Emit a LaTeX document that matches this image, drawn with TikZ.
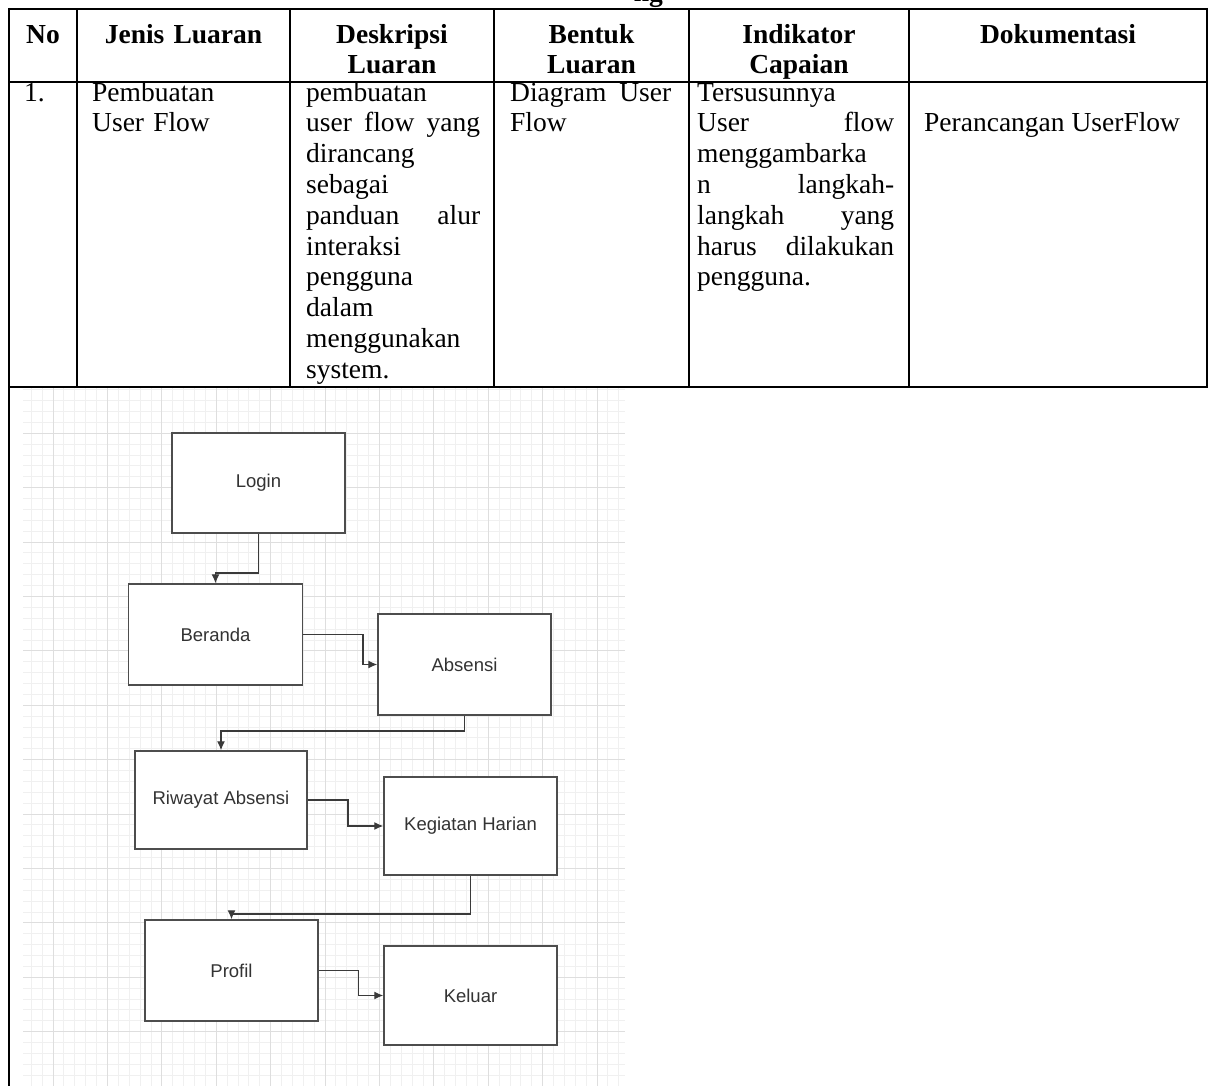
\documentclass[tikz,border=0pt]{standalone}
\usepackage{fontspec}
\setmainfont{Liberation Serif}
\newfontfamily\diagfont{Liberation Sans}
\usetikzlibrary{arrows.meta,calc}
\newcommand{\spreadline}[2]{\leavevmode\hbox to #1{#2}}
\definecolor{boxline}{HTML}{4D4D4D}
\definecolor{connline}{HTML}{3A3A3A}
\definecolor{boxtext}{HTML}{333333}
\begin{document}
\begin{tikzpicture}[x=1pt,y=-1pt,
  tline/.style={line width=2pt,black},
  hcell/.style={inner sep=0pt,anchor=north,align=center,font=\fontsize{27.5}{30.8}\selectfont\bfseries},
  bcell/.style={inner sep=0pt,anchor=north west,align=left,font=\fontsize{27.5}{30.8}\selectfont},
  minorgrid/.style={draw=gray!12,line width=0.8pt},
  majorgrid/.style={draw=gray!26,line width=0.9pt},
  flowbox/.style={draw=boxline,line width=1.4pt,fill=white,inner sep=0pt,
    font=\diagfont\fontsize{18.5}{22}\selectfont,text=boxtext},
  conn/.style={draw=connline,line width=1.3pt,-{Latex[length=9pt,width=8pt]}}
]
\useasboundingbox (0,0) rectangle (1208,1086);
\fill[white] (0,0) rectangle (1208,1086);

% cut-off title fragment
\begin{scope}
\clip (0,0) rectangle (1208,8.5);
\node[anchor=base east,inner sep=0pt,font=\fontsize{27.5}{30.8}\selectfont\bfseries] (title) at (663,1.5) {ng};
\end{scope}

% grid background of the embedded diagram
\begin{scope}
\clip (23,388) rectangle (625,1086);
\fill[white] (23,388) rectangle (625,1086);
\foreach \k in {0,...,60} {
  \draw[minorgrid] ({53+10.88*(\k-3)},388) -- ({53+10.88*(\k-3)},1086);
}
\foreach \k in {0,...,70} {
  \draw[minorgrid] (23,{433.2+10.88*(\k-5)}) -- (625,{433.2+10.88*(\k-5)});
}
\foreach \k in {0,...,12} {
  \draw[majorgrid] ({53+54.4*(\k-1)},388) -- ({53+54.4*(\k-1)},1086);
}
\foreach \k in {0,...,14} {
  \draw[majorgrid] (23,{433.2+54.4*(\k-1)}) -- (625,{433.2+54.4*(\k-1)});
}
\end{scope}

% table rules
\draw[tline] (8,9) -- (1208,9);
\draw[tline] (9,82) -- (1207,82);
\draw[tline] (9,387) -- (1207,387);
\draw[tline] (9,8) -- (9,1086);
\foreach \cx in {77,290,494,689,909} {
  \draw[tline] (\cx,9) -- (\cx,387);
}
\draw[tline] (1207,8) -- (1207,388);

% header (first baseline at y = 43)
\node[hcell,text width=60pt] (hno) at (43,21.4) {\strut No};
\node[hcell,text width=200pt] (hjenis) at (183.5,21.4) {\strut Jenis Luaran};
\node[hcell,text width=200pt] (hdesk) at (392,21.4) {\strut Deskripsi\\Luaran};
\node[hcell,text width=190pt] (hbentuk) at (591.5,21.4) {\strut Bentuk\\Luaran};
\node[hcell,text width=210pt] (hind) at (799,21.4) {\strut Indikator\\Capaian};
\node[hcell,text width=290pt] (hdok) at (1058,21.4) {\strut Dokumentasi};

% body row (first baseline at y = 101)
\node[bcell,text width=45pt] (cno) at (24,79.4) {\strut 1.};
\node[bcell,text width=182pt] (cjenis) at (92,79.4) {\strut Pembuatan\\User Flow};
\node[bcell,text width=174pt] (cdesk) at (306,79.4) {\strut pembuatan\\
\spreadline{174pt}{user\hfill flow\hfill yang}\\
dirancang\\
sebagai\\
\spreadline{174pt}{panduan\hfill alur}\\
interaksi\\
pengguna\\
dalam\\
menggunakan\\
system.};
\node[bcell,text width=161pt] (cbentuk) at (510,79.4) {\strut\spreadline{161pt}{Diagram\hfill User}\\Flow};
\node[bcell,text width=197pt] (cind) at (697,79.4) {\strut Tersusunnya\\
\spreadline{197pt}{User\hfill flow}\\
menggambarka\\
\spreadline{197pt}{n\hfill langkah-}\\
\spreadline{197pt}{langkah\hfill yang}\\
\spreadline{197pt}{harus\hfill dilakukan}\\
pengguna.};
\node[bcell,anchor=base west] (cdok) at (924,131.8) {Perancangan UserFlow};

% flow diagram
\node[flowbox,minimum width=173pt,minimum height=100pt] (login) at (258.5,483) {Login};
\node[flowbox,minimum width=174pt,minimum height=101pt] (beranda) at (215.5,634.5) {Beranda};
\node[flowbox,minimum width=173pt,minimum height=101pt] (absensi) at (464.5,664.5) {Absensi};
\node[flowbox,minimum width=172pt,minimum height=98pt] (riwayat) at (221,800) {Riwayat Absensi};
\node[flowbox,minimum width=173pt,minimum height=98pt] (kegiatan) at (470.5,826) {Kegiatan Harian};
\node[flowbox,minimum width=173pt,minimum height=101pt] (profil) at (231.5,970.5) {Profil};
\node[flowbox,minimum width=173pt,minimum height=99pt] (keluar) at (470.5,995.5) {Keluar};

\draw[conn] (login.south) |- (240,573) -| (beranda.north);
\draw[conn] (beranda.east) -| (363,650) |- (absensi.west);
\draw[conn] (absensi.south) |- (300,731) -| (riwayat.north);
\draw[conn] (riwayat.east) -| (348,815) |- (kegiatan.west);
\draw[conn] (kegiatan.south) |- (350,914) -| (profil.north);
\draw[conn] (profil.east) -| (358.6,985) |- (keluar.west);
\end{tikzpicture}
\end{document}
